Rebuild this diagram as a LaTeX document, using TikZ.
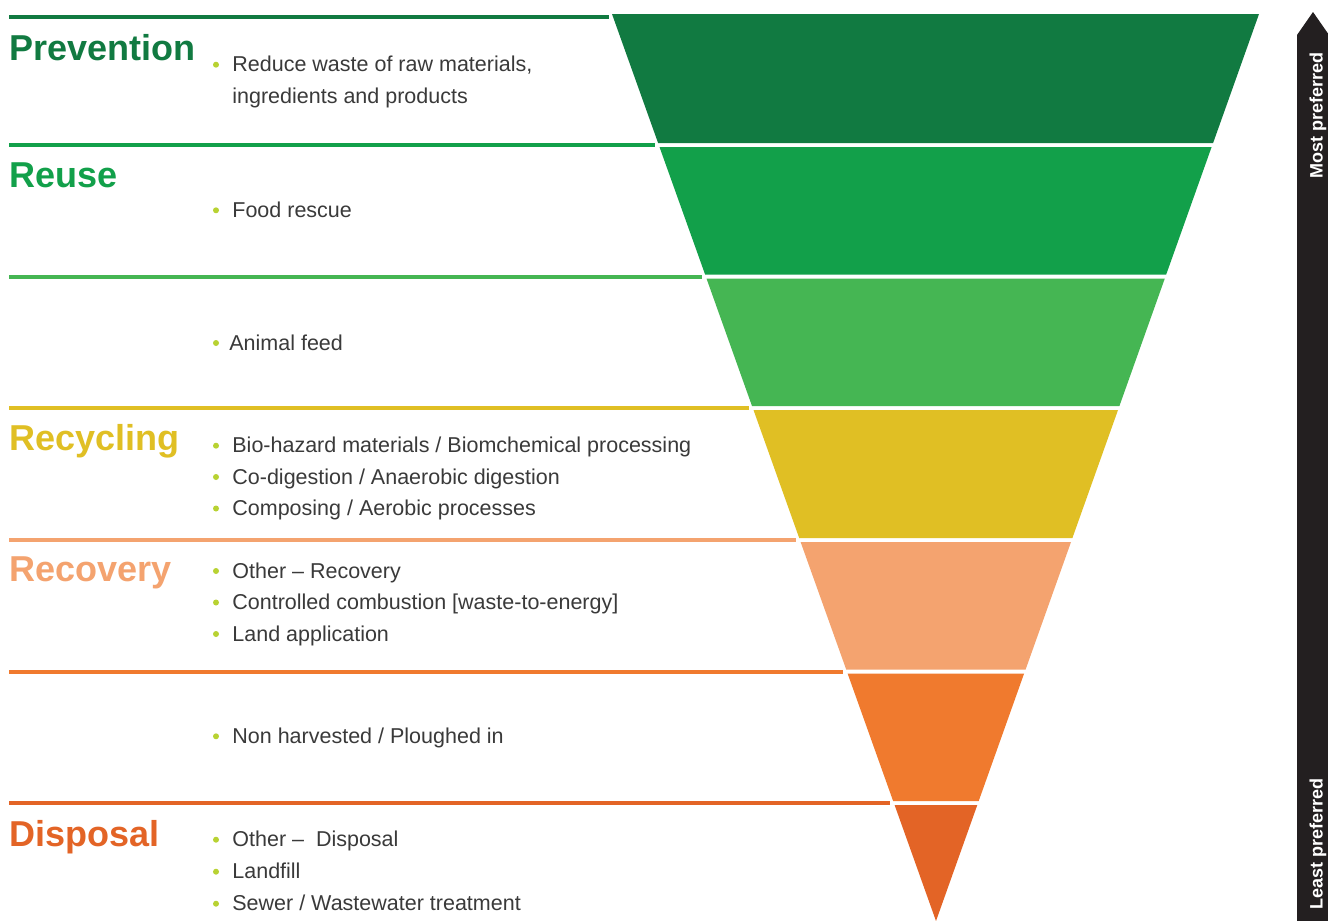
\documentclass[tikz,border=0pt]{standalone}
\usepackage{fontspec}
\setmainfont{Liberation Sans}
\definecolor{cA}{HTML}{117A41}
\definecolor{cB}{HTML}{12A04A}
\definecolor{cC}{HTML}{45B653}
\definecolor{cD}{HTML}{E0BF24}
\definecolor{cE}{HTML}{F4A36F}
\definecolor{cF}{HTML}{F07A2E}
\definecolor{cG}{HTML}{E36426}
\definecolor{txt}{HTML}{3A3A3A}
\definecolor{bullet}{HTML}{B8D232}
\definecolor{bar}{HTML}{231F20}
\newcommand\bulletitem[4]{%
  \node[bul] (#1b) at (216,{#3-7}) {};
  \node[itemtext] (#1) at (#2,#3) {#4};}
\begin{document}
\begin{tikzpicture}[x=0.5pt,y=-0.5pt,
  title/.style={font=\fontsize{18}{20}\selectfont\bfseries, anchor=base west, inner sep=0},
  itemtext/.style={font=\fontsize{10.75}{13}\selectfont, text=txt, anchor=base west, inner sep=0},
  bul/.style={circle, fill=bullet, inner sep=0, minimum size=3pt},
  rule/.style={line width=2pt},
  side/.style={font=\fontsize{9}{10}\selectfont\bfseries, text=white, rotate=90, anchor=base, inner sep=0}]
\useasboundingbox (0,0) rectangle (1328,921);
\fill[white] (0,0) rectangle (1328,921);
% pyramid bands
\fill[cA] (612,14) -- (1259,14) -- (1213.1,143) -- (658.1,143) -- cycle;
\fill[cB] (659.5,147) -- (1211.6,147) -- (1166.2,274.5) -- (705.1,274.5) -- cycle;
\fill[cC] (706.5,278.5) -- (1164.8,278.5) -- (1119.4,406) -- (752.0,406) -- cycle;
\fill[cD] (753.5,410) -- (1118.0,410) -- (1072.4,538) -- (799.2,538) -- cycle;
\fill[cE] (800.6,542) -- (1071.0,542) -- (1025.6,669.5) -- (846.2,669.5) -- cycle;
\fill[cF] (847.6,673.5) -- (1024.1,673.5) -- (978.7,801) -- (893.1,801) -- cycle;
\fill[cG] (894.6,805) -- (977.3,805) -- (936,921) -- cycle;
% rules
\coordinate (r1a) at (9,17);    \coordinate (r1b) at (609,17);
\coordinate (r2a) at (9,145);   \coordinate (r2b) at (654.8,145);
\coordinate (r3a) at (9,276.5); \coordinate (r3b) at (701.8,276.5);
\coordinate (r4a) at (9,408);   \coordinate (r4b) at (748.7,408);
\coordinate (r5a) at (9,540);   \coordinate (r5b) at (795.9,540);
\coordinate (r6a) at (9,671.5); \coordinate (r6b) at (842.9,671.5);
\coordinate (r7a) at (9,803);   \coordinate (r7b) at (889.8,803);
\draw[rule,cA] (r1a) -- (r1b);
\draw[rule,cB] (r2a) -- (r2b);
\draw[rule,cC] (r3a) -- (r3b);
\draw[rule,cD] (r4a) -- (r4b);
\draw[rule,cE] (r5a) -- (r5b);
\draw[rule,cF] (r6a) -- (r6b);
\draw[rule,cG] (r7a) -- (r7b);
% titles
\node[title,text=cA] (tprev) at (9,61) {Prevention};
\node[title,text=cB] (treuse) at (9,187) {Reuse};
\node[title,text=cD] (trecy) at (9,450) {Recycling};
\node[title,text=cE] (treco) at (9,581.7) {Recovery};
\node[title,text=cG] (tdisp) at (9,846.7) {Disposal};
% items
\bulletitem{i1}{232}{71.7}{Reduce waste of raw materials,}
\node[itemtext] (i1x) at (232,103.3) {ingredients and products};
\bulletitem{i2}{232}{217.3}{Food rescue}
\bulletitem{i3}{229}{350}{Animal feed}
\bulletitem{i4}{232}{452.7}{Bio-hazard materials / Biomchemical processing}
\bulletitem{i5}{232}{484}{Co-digestion / Anaerobic digestion}
\bulletitem{i6}{232}{515.5}{Composing / Aerobic processes}
\bulletitem{i7}{232}{578}{Other -- Recovery}
\bulletitem{i8}{232}{609.5}{Controlled combustion [waste-to-energy]}
\bulletitem{i9}{232}{641}{Land application}
\bulletitem{i10}{232}{743.3}{Non harvested / Ploughed in}
\bulletitem{i11}{232}{846.7}{Other --\ \ Disposal}
\bulletitem{i12}{232}{878.7}{Landfill}
\bulletitem{i13}{232}{910.7}{Sewer / Wastewater treatment}
% side arrow
\fill[bar] (1297,921) -- (1297,35) -- (1313,12) -- (1329,35) -- (1329,921) -- cycle;
\node[side] (most) at (1322.5,115) {Most preferred};
\node[side] (least) at (1322.5,844) {Least preferred};
\end{tikzpicture}
\end{document}
